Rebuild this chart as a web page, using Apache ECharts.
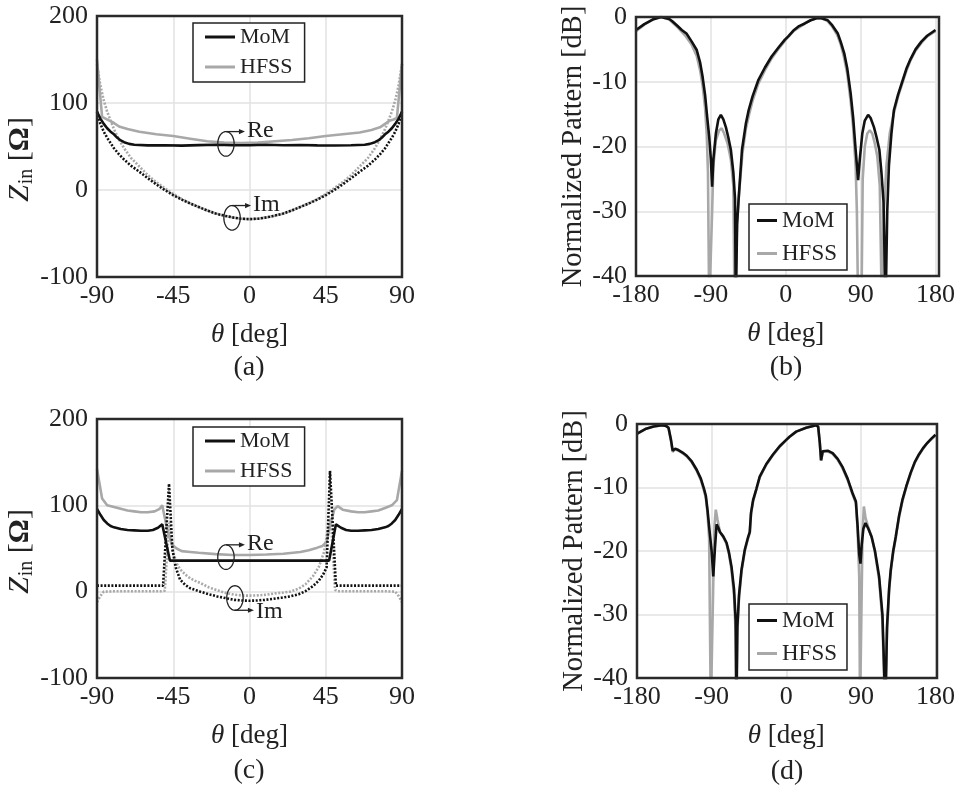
<!DOCTYPE html>
<html>
<head>
<meta charset="utf-8">
<script src="https://cdn.jsdelivr.net/npm/echarts/dist/echarts.min.js"></script>
<style>
  html, body { margin: 0; padding: 0; background: #fff; }
  #chart { width: 958px; height: 788px; }
</style>
</head>
<body>
<div id="chart"></div>
<script>
// ---------- (a) input impedance, case 1 ----------
const thetaReMomA = [-90,-88,-86,-84,-82,-80,-78,-76,-74,-71,-68,-60,-50,-40,-30,-20,-10,0,10,20,30,40,50,60,68,71,74,76,78,80,82,84,86,88,90];
const reMomA      = [90,82,76,71,67,64,60,57,55,53,52,51.3,51.5,51,51.6,52,51.4,51.5,52,51.5,51.8,51.3,51.2,51.5,52,53,55,57,60,64,67,71,76,82,90];
const thetaReHfssA = [-90,-87,-85,-83,-80,-77,-72,-65,-55,-45,-35,-25,-15,-5,5,15,25,35,45,55,65,72,77,80,83,85,87,90];
const reHfssA      = [150,84,82,80,77,73,70,67,64,62,59,56,54.5,54,54.5,56,57.5,59.5,62,64,66,69,72,76,80,81,83,145];
const thetaImA = [-90,-88,-86,-84,-82,-80,-77,-74,-70,-65,-60,-55,-50,-45,-40,-35,-30,-25,-20,-15,-10,-5,0,5,10,15,20,25,30,35,40,45,50,55,60,65,70,74,77,80,82,84,86,88,90];
const imMomA   = [90,76,67,60,54,48,41,35,28,21,13.5,6.5,0,-6,-11,-15.5,-19.5,-23.5,-27,-29.5,-31.5,-33,-33.5,-33,-31.5,-29.5,-27,-23.5,-19.5,-15.5,-11,-6,0,6.5,13.5,21,28,35,41,48,54,60,67,76,90];
const imHfssA  = [145,120,103,90,80,70,58,48,37,27,17,9,2,-4.5,-10.5,-15.3,-19.5,-23.5,-27,-29.5,-31.5,-33,-33.5,-33,-31.5,-29.5,-27,-23.5,-19.5,-15.3,-10.5,-4.5,2,9,17,27,37,48,58,70,80,90,103,120,145];

// ---------- (b) normalized pattern, case 1 ----------
const thetaMomB = [-180,-170,-160,-150,-140,-136,-130,-125,-119,-113,-107,-103,-100,-97,-94.5,-92,-90,-88.5,-87,-84,-81,-78,-75,-72,-69,-66,-63,-61,-60,-58.5,-56.6,-52.6,-48,-44.6,-40,-32.8,-25,-17,-8,-1,3,10,16,22.8,30,37,43,50.5,56,62.4,66,70.3,74,78,81,84,87,89,92,95,99,102,106,109,112.5,115,117.5,120,122,124,127,130,135,140,145,150,156,163,170,180];
const momB      = [-2,-1.1,-0.4,0,-0.3,-0.7,-1.4,-2,-2.6,-3.8,-5.1,-7,-9.2,-12,-15.4,-18.5,-22,-26.2,-22,-18,-15.8,-15.1,-15.8,-17,-18.6,-20.5,-24,-28,-45,-32,-28,-20.5,-16.5,-14.4,-12.3,-9.7,-7.8,-6.1,-4.6,-3.5,-3,-2,-1.4,-1,-0.5,-0.2,-0.2,-0.5,-1.3,-2.5,-3.8,-5.6,-8,-11.8,-15.5,-20.5,-25.2,-22,-18,-16,-15.1,-15.6,-17,-18.5,-20.5,-24,-28.5,-45,-30,-23,-18,-14.4,-12,-10,-8,-6.5,-5,-3.8,-2.9,-2];
const thetaHfssB = [-180,-170,-160,-150,-140,-130,-120,-113,-107,-103,-100,-97,-95,-93.5,-92,-90,-88.5,-87,-84,-80,-77,-74,-70,-66,-63,-61.5,-58.5,-56,-52,-48,-44,-40,-33,-25,-17,-8,0,10,22,30,37,43,50,56,62,66,70,74,78,81,84,85.5,87,91,92.5,95,98,101,104,107,110,113,115.5,118,121,125,130,135,140,145,150,156,163,170,180];
const hfssB      = [-2.2,-1.2,-0.4,0,-0.4,-1.6,-3,-4.3,-6,-8.2,-10.5,-14,-18,-24,-45,-45,-30,-23,-19,-17.5,-17.2,-18,-19.5,-22,-26,-45,-32,-27,-21,-17.3,-15,-13,-10.3,-8.2,-6.4,-4.8,-3.5,-2.1,-1.1,-0.5,-0.2,-0.2,-0.6,-1.5,-2.8,-4.2,-6.2,-8.8,-13,-17,-23,-30,-45,-45,-25,-20,-18,-17.5,-18,-19.5,-21.5,-26,-45,-30,-23,-18,-14.8,-12.3,-10.3,-8.3,-6.7,-5.2,-4,-3,-2.2];

// ---------- (c) input impedance, case 2 ----------
const thetaReMomC = [-90,-88,-86,-84,-82,-80,-76,-72,-68,-64,-60,-57,-54,-51.5,-47,47,51,54,57,60,64,68,72,76,80,82,84,86,88,90];
const reMomC      = [96,89,83,79,76,74.5,72.5,71.5,71,70.5,70.5,71.5,74,78,36,36,78,74,71.5,70.5,70.5,71,71.5,72.5,74.5,76,79,83,89,96];
const thetaReHfssC = [-90,-87,-84,-80,-76,-72,-68,-64,-60,-56,-53,-51.5,-49,-46,-43,-40,-35,-30,-20,-10,0,10,20,30,35,40,43,45.5,48,50,52,55,60,64,68,72,76,80,84,87,90];
const reHfssC      = [142,108,100,98,96,94,93,92,92,93,96,100,76,55,50,47,46,45,43.5,42.5,42.5,43,44,46,48,51,53,57.5,80,95,99,95,93,92,92,93,94,97,100,106,140];
const thetaImMomC = [-90,-70,-51,-47.5,-45.5,-43.5,-41,-38,-35,-29,-24,-19,-14,-9,-4,0,4,9,14,19,24,29,33,37.5,41,43.5,45.5,47.5,51,70,90];
const imMomC      = [7,7,7,125,49,28,14,8,4,0,-3,-5.5,-7.5,-9.5,-10.3,-10.5,-10.3,-9.5,-8.3,-7,-5.5,-3,0.5,6.5,13,20,28,140,7,7,7];
const thetaImHfssC = [-90,-88,-86,-80,-70,-60,-52,-50,-47.5,-46.5,-45,-43,-41,-38,-35,-32,-29,-24,-19,-14,-9,-4,0,5,10,15,20,24,29,33,37.5,41,44,46,48,50.5,52,60,70,80,86,88,90];
const imHfssC      = [-12,-5,0,0.5,0.5,0.5,0.5,1,80,65,45,33,26,20,15.5,12.5,10,5,1.5,-1.5,-3.5,-4.5,-4.6,-4.3,-3.5,-2,-1,0,3.5,8.5,18,29,46,70,85,2,0.5,0.5,0.5,0.5,0,-5,-12];

// ---------- (d) normalized pattern, case 2 ----------
const thetaMomD = [-180,-170,-160,-150,-145,-142,-139,-137,-134,-130,-125,-120,-114,-108,-103,-99,-97,-95,-92.4,-90,-88,-86,-84,-82,-80,-76,-72,-69,-66,-63,-61,-60,-59,-57,-54,-50,-46,-44,-42.5,-40,-36,-32,-24,-16,-8,0,4,12,24,30,36,38.5,40.5,42,44,46,50,56,62,68,74,80,84,86,88,89.5,91,93,95.6,99,103,107,112,116,119.6,121.5,124,126,129,132,136,140,145,150,155,160,165,170,175,180];
const momD      = [-1.5,-0.8,-0.4,-0.2,-0.3,-0.6,-2.5,-4.2,-3.9,-4.1,-4.5,-5,-5.9,-7.2,-8.6,-10.3,-11.3,-13.5,-17,-20,-24,-19.5,-15.8,-16.3,-17,-17.7,-18.7,-20.3,-22.5,-26,-31,-45,-32,-27,-23,-19.8,-17.8,-17,-14,-12,-10.2,-8.3,-6.3,-4.8,-3.5,-2.5,-2,-1.2,-0.6,-0.4,-0.2,-0.4,-3,-5.7,-4.3,-4,-4.2,-4.6,-5.5,-6.8,-8.6,-10.9,-12.2,-16,-20.5,-22,-19,-16.5,-15.6,-16.5,-17.8,-20,-24,-30,-45,-32,-26,-23,-20,-17.8,-14.5,-12,-9.7,-7.7,-6,-4.8,-3.8,-3,-2.3,-1.7];
const thetaHfssD = [-180,-170,-160,-150,-145,-142,-139,-137,-134,-130,-125,-120,-114,-108,-103,-99,-97,-95,-93,-91,-89.5,-88,-86.5,-85,-83,-80,-76,-72,-69,-66,-63,-61,-60.5,-59,-57,-54,-50,-46,-44,-42.5,-40,-36,-32,-24,-16,-8,0,4,12,24,30,36,38.5,40.5,42,44,46,50,56,62,68,74,80,84,86,88,89,90.5,92,93.6,95.6,99,103,107,112,116,119,121.5,124,126,129,132,136,140,145,150,155,160,165,170,175,180];
const hfssD      = [-1.6,-0.8,-0.4,-0.2,-0.3,-0.6,-2.7,-4.4,-4.0,-4.2,-4.6,-5.1,-6,-7.4,-8.8,-10.6,-11.6,-14,-18,-45,-45,-25,-16,-13.5,-15,-17,-17.8,-18.9,-20.5,-23,-27,-33,-45,-33,-27.5,-23.3,-20,-18,-17.2,-14.2,-12.2,-10.3,-8.4,-6.4,-4.9,-3.6,-2.5,-2,-1.2,-0.6,-0.4,-0.2,-0.4,-3.1,-5.8,-4.4,-4.1,-4.3,-4.7,-5.6,-7,-8.8,-11.1,-12.5,-16.5,-24,-45,-45,-17,-13,-14.8,-16.3,-17.8,-20.2,-24.5,-31,-45,-33,-26.5,-23.3,-20.2,-18,-14.7,-12.2,-9.8,-7.8,-6.1,-4.9,-3.9,-3,-2.4,-1.8];

// axis ranges and tick steps
const impTicks = { min: -100, max: 200, step: 100 };
const patTicks = { min: -40, max: 0, step: 10 };
const angImp = { min: -90, max: 90, step: 45 };
const angPat = { min: -180, max: 180, step: 90 };

// Re / Im callouts (data coordinates of the ellipse centres)
const callouts = [
  { panel: 0, text: 'Re', theta: -13.9, value: 53,   side: 'top' },
  { panel: 0, text: 'Im', theta: -10.3, value: -32,  side: 'top' },
  { panel: 2, text: 'Re', theta: -13.9, value: 40,   side: 'top' },
  { panel: 2, text: 'Im', theta: -8.6,  value: -7.3, side: 'bottom' }
];
const captions = ['(a)', '(b)', '(c)', '(d)'];

const FONT = '"Liberation Serif", "Times New Roman", serif';
const INK = '#222';
const BLACK = '#111';
const GREY = '#a8a8a8';

function zip(t, v) { return t.map((x, i) => [x, v[i]]); }

function curve(name, panel, t, v, color, dotted) {
  return {
    type: 'line', name: name,
    xAxisIndex: panel, yAxisIndex: panel,
    data: zip(t, v),
    showSymbol: false, symbol: 'none',
    clip: true,
    lineStyle: { color: color, width: 2.6, type: dotted ? [2, 1.6] : 'solid' },
    itemStyle: { color: color },
    emphasis: { disabled: true }
  };
}

const gridBoxes = [
  { left: 97,  top: 16,  width: 305, height: 261 },
  { left: 636, top: 17,  width: 303, height: 259 },
  { left: 97,  top: 419, width: 305, height: 259 },
  { left: 637, top: 424, width: 300, height: 254 }
];
const grids = gridBoxes.map(g => Object.assign({ show: false }, g));

const splitLine = { show: true, lineStyle: { color: '#e2e2e2', width: 1.5 } };
const tickFont = { fontSize: 26, fontFamily: FONT, color: INK };

function xAxis(panel, r) {
  return {
    type: 'value', gridIndex: panel, min: r.min, max: r.max, interval: r.step,
    axisLine: { show: false }, axisTick: { show: false }, splitLine: splitLine,
    axisLabel: Object.assign({ margin: 6 }, tickFont),
    name: '{t|θ} [deg]', nameLocation: 'middle', nameGap: 44,
    nameTextStyle: { fontSize: 27, fontFamily: FONT, color: INK,
      rich: { t: { fontSize: 27, fontFamily: FONT, fontStyle: 'italic', color: INK } } }
  };
}
function yAxis(panel, r, name, gap, size, rich) {
  return {
    type: 'value', gridIndex: panel, min: r.min, max: r.max, interval: r.step,
    axisLine: { show: false }, axisTick: { show: false }, splitLine: splitLine,
    axisLabel: Object.assign({ margin: 9 }, tickFont),
    name: name, nameLocation: 'middle', nameGap: gap, nameRotate: 90,
    nameTextStyle: { fontSize: size, fontFamily: FONT, color: INK, rich: rich || {} }
  };
}
function zRich(shift) {
  return {
    z: { fontSize: 30, fontFamily: FONT, fontStyle: 'italic', color: INK },
    s: { fontSize: 20, fontFamily: FONT, color: INK, padding: [13, 0, 0, 1] },
    o: { fontSize: 30, fontFamily: FONT, fontWeight: 'bold', color: INK },
    b: { fontSize: 30, fontFamily: FONT, color: INK, padding: [0, shift, 0, 0] }
  };
}
const zName = '{z|Z}{s|in} [{o|Ω}{b|]}';

function legend(left, top, big) {
  return {
    orient: 'vertical', left: left, top: top,
    padding: big ? [3, 12, 4, 12] : [5, 10, 5, 8],
    itemGap: big ? 8 : 10,
    itemWidth: big ? 30 : 20, itemHeight: 3,
    borderColor: '#222', borderWidth: 1.5, backgroundColor: '#fff',
    textStyle: { fontSize: big ? 22 : 23, fontFamily: FONT, color: INK, lineHeight: 22 },
    selectedMode: false,
    data: [
      { name: 'MoM', icon: 'rect', itemStyle: { color: BLACK } },
      { name: 'HFSS', icon: 'rect', itemStyle: { color: GREY } }
    ]
  };
}

const series = [
  curve('HFSS', 0, thetaReHfssA, reHfssA, GREY, false),
  curve('HFSS', 0, thetaImA, imHfssA, GREY, true),
  curve('MoM', 0, thetaReMomA, reMomA, BLACK, false),
  curve('MoM', 0, thetaImA, imMomA, BLACK, true),

  curve('HFSS', 1, thetaHfssB, hfssB, GREY, false),
  curve('MoM', 1, thetaMomB, momB, BLACK, false),

  curve('HFSS', 2, thetaReHfssC, reHfssC, GREY, false),
  curve('HFSS', 2, thetaImHfssC, imHfssC, GREY, true),
  curve('MoM', 2, thetaReMomC, reMomC, BLACK, false),
  curve('MoM', 2, thetaImMomC, imMomC, BLACK, true),

  curve('HFSS', 3, thetaHfssD, hfssD, GREY, false),
  curve('MoM', 3, thetaMomD, momD, BLACK, false)
];

const chart = echarts.init(document.getElementById('chart'), null, { renderer: 'canvas' });
chart.setOption({
  animation: false,
  backgroundColor: '#fff',
  grid: grids,
  xAxis: [xAxis(0, angImp), xAxis(1, angPat), xAxis(2, angImp), xAxis(3, angPat)],
  yAxis: [
    yAxis(0, impTicks, zName, 46, 30, zRich(26)),
    yAxis(1, patTicks, 'Normalized Pattern [dB]', 48, 28.5),
    yAxis(2, impTicks, zName, 46, 30, zRich(6)),
    yAxis(3, patTicks, 'Normalized Pattern [dB]', 48, 28.5)
  ],
  legend: [legend(193, 23, true), legend(749, 204, false), legend(193, 427, true), legend(749, 604, false)],
  series: series
});

const graphics = [];

// Dark frame around each plotting area
gridBoxes.forEach(g => {
  graphics.push({
    type: 'rect', z: 40, silent: true,
    shape: { x: g.left, y: g.top, width: g.width, height: g.height },
    style: { fill: 'none', stroke: '#2a2a2a', lineWidth: 2.5 }
  });
});

// Callout ellipses with arrows, placed through the axes of each panel
const RX = 8.2, RY = 12.3;
callouts.forEach(c => {
  const p = chart.convertToPixel({ xAxisIndex: c.panel, yAxisIndex: c.panel }, [c.theta, c.value]);
  const pts = [];
  for (let k = 0; k < 48; k++) {
    const a = (k / 48) * Math.PI * 2;
    pts.push([p[0] + RX * Math.cos(a), p[1] + RY * Math.sin(a)]);
  }
  graphics.push({ type: 'polygon', shape: { points: pts }, style: { fill: 'none', stroke: INK, lineWidth: 1.3 }, z: 50 });
  const ay = c.side === 'top' ? p[1] - RY : p[1] + RY;
  const x0 = p[0], x1 = p[0] + 19;
  graphics.push({ type: 'line', shape: { x1: x0, y1: ay, x2: x1 - 4, y2: ay }, style: { stroke: INK, lineWidth: 1.3 }, z: 50 });
  graphics.push({ type: 'polygon', shape: { points: [[x1, ay], [x1 - 6, ay - 2.6], [x1 - 6, ay + 2.6]] }, style: { fill: INK }, z: 50 });
  graphics.push({
    type: 'text', x: p[0] + 21, y: ay + (c.side === 'top' ? -1 : 1), z: 50,
    style: { text: c.text, font: '24px ' + FONT, fill: INK, textAlign: 'left', textVerticalAlign: 'middle' }
  });
});

// Panel captions centred under each x-axis title
const capPos = [[249, 368], [786, 368], [249, 771], [787, 772]];
captions.forEach((t, i) => {
  graphics.push({
    type: 'text', x: capPos[i][0], y: capPos[i][1], z: 50,
    style: { text: t, font: '28px ' + FONT, fill: INK, textAlign: 'center', textVerticalAlign: 'middle' }
  });
});
chart.setOption({ graphic: graphics });
</script>
</body>
</html>
